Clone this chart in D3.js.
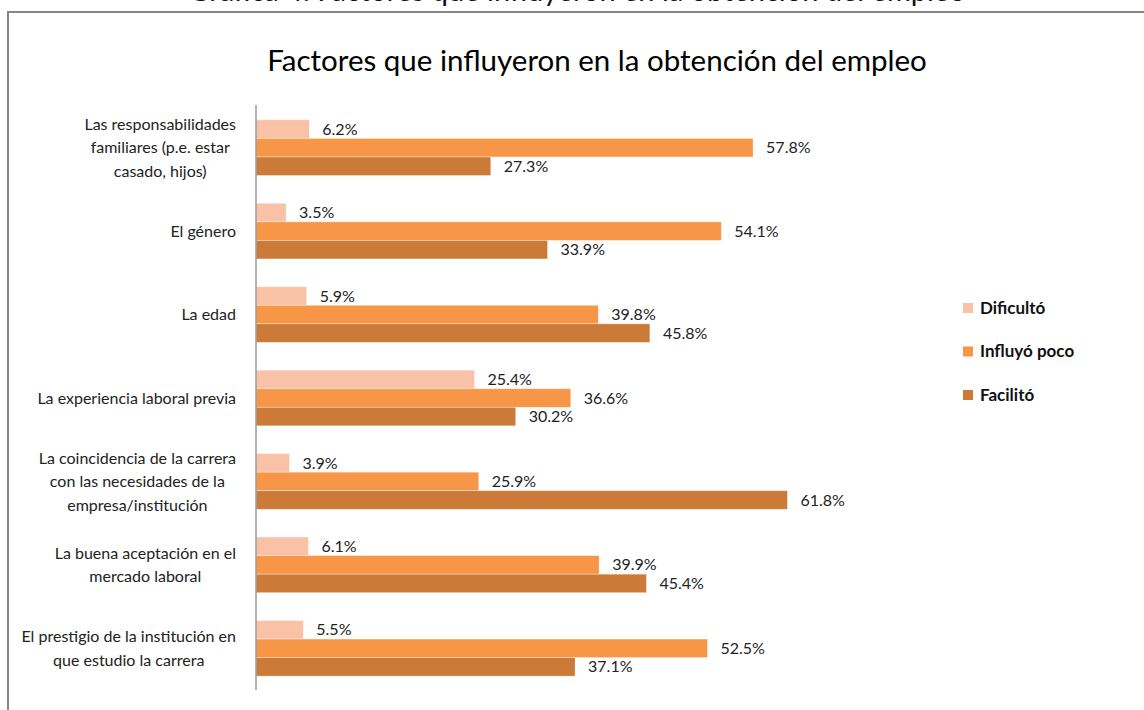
<!DOCTYPE html>
<html>
<head>
<meta charset="utf-8">
<script src="https://cdn.jsdelivr.net/npm/d3@7"></script>
<style>
  body { margin: 0; background: #fff; }
  svg { display: block; font-family: Lato, "Open Sans", sans-serif; }
</style>
</head>
<body>
<div id="chart"></div>
<script>
// Datos
const categorias = [
  ["Las responsabilidades", "familiares (p.e. estar", "casado, hijos)"],
  ["El género"],
  ["La edad"],
  ["La experiencia laboral previa"],
  ["La coincidencia de la carrera", "con las necesidades de la", "empresa/institución"],
  ["La buena aceptación en el", "mercado laboral"],
  ["El prestigio de la institución en", "que estudio la carrera"]
]
const series = ["Dificultó", "Influyó poco", "Facilitó"]
const dificulto = [6.2, 3.5, 5.9, 25.4, 3.9, 6.1, 5.5]
const influyoPoco = [57.8, 54.1, 39.8, 36.6, 25.9, 39.9, 52.5]
const facilito = [27.3, 33.9, 45.8, 30.2, 61.8, 45.4, 37.1]
const colores = ["#f9c2a6", "#f79646", "#cc7a38"]

const valores = [dificulto, influyoPoco, facilito]
const datos = categorias.map((c, i) => ({
  id: i,
  lineas: c,
  vals: series.map((s, j) => ({serie: s, j: j, v: valores[j][i]}))
}))

const width = 1144, height = 710

const svg = d3.select("#chart")
  .append("svg")
    .attr("width", width)
    .attr("height", height)

// Pie de gráfica, cortado por el borde superior como en el original
svg.append("text")
  .attr("x", 577).attr("y", 0.5)
  .attr("text-anchor", "middle")
  .attr("font-size", 29)
  .attr("fill", "#111")
  .text("Gráfica 4. Factores que influyeron en la obtención del empleo")

// Marco del gráfico
svg.append("rect")
  .attr("x", 8).attr("y", 12)
  .attr("width", 1200).attr("height", 800)
  .attr("fill", "#fff")
  .attr("stroke", "#868686")
  .attr("stroke-width", 2)

// Título
svg.append("text")
  .attr("x", 597).attr("y", 71)
  .attr("text-anchor", "middle")
  .attr("font-size", 29.5)
  .attr("fill", "#000")
  .text("Factores que influyeron en la obtención del empleo")

// Escalas
const x = d3.scaleLinear().domain([0, 60]).range([256, 772])
const y = d3.scaleBand()
  .domain(datos.map(d => d.id))
  .range([106, 690])
  .paddingInner(0.333)
  .paddingOuter(0.166)
const ySub = d3.scaleBand()
  .domain(series)
  .range([0, y.bandwidth()])

const grupos = svg.append("g")
  .selectAll("g")
  .data(datos)
  .join("g")
    .attr("transform", d => `translate(0,${y(d.id)})`)

grupos.selectAll("rect")
  .data(d => d.vals)
  .join("rect")
    .attr("x", x(0))
    .attr("y", d => ySub(d.serie))
    .attr("width", d => x(d.v) - x(0))
    .attr("height", ySub.bandwidth())
    .attr("fill", d => colores[d.j])
    .attr("stroke", "#fff")
    .attr("stroke-opacity", 0.5)
    .attr("stroke-width", 0.7)

grupos.selectAll("text.valor")
  .data(d => d.vals)
  .join("text")
    .attr("class", "valor")
    .attr("x", d => x(d.v) + 13)
    .attr("y", d => ySub(d.serie) + ySub.bandwidth() / 2)
    .attr("dy", "0.35em")
    .attr("font-size", 16)
    .attr("fill", "#222")
    .text(d => d.v.toFixed(1) + "%")

// Eje vertical
svg.append("line")
  .attr("x1", x(0)).attr("x2", x(0))
  .attr("y1", 105).attr("y2", 690)
  .attr("stroke", "#9a9a9a")
  .attr("stroke-width", 1.5)

// Etiquetas de categoría (líneas centradas, bloque alineado a la derecha)
const lineH = 23.5
const etiquetas = svg.append("g")
  .selectAll("text")
  .data(datos)
  .join("text")
    .attr("font-size", 16)
    .attr("fill", "#222")
    .attr("text-anchor", "middle")
etiquetas.each(function(d) {
  const t = d3.select(this)
  const yc = y(d.id) + y.bandwidth() / 2
  const n = d.lineas.length
  d.lineas.forEach((l, k) => {
    t.append("tspan")
      .attr("y", yc + (k - (n - 1) / 2) * lineH)
      .attr("dy", "0.35em")
      .text(l)
  })
  let maxW = 0
  t.selectAll("tspan").each(function() { maxW = Math.max(maxW, this.getComputedTextLength()) })
  t.selectAll("tspan").attr("x", 236 - maxW / 2)
})

// Leyenda
const leyenda = svg.append("g")
  .selectAll("g")
  .data(series)
  .join("g")
    .attr("transform", (d, i) => `translate(963,${308 + i * 43.5})`)
leyenda.append("rect")
  .attr("x", 0).attr("y", -5)
  .attr("width", 10).attr("height", 10)
  .attr("fill", (d, i) => colores[i])
leyenda.append("text")
  .attr("x", 17).attr("dy", "0.35em")
  .attr("font-size", 17)
  .attr("font-weight", "bold")
  .attr("fill", "#111")
  .text(d => d)
</script>
</body>
</html>
